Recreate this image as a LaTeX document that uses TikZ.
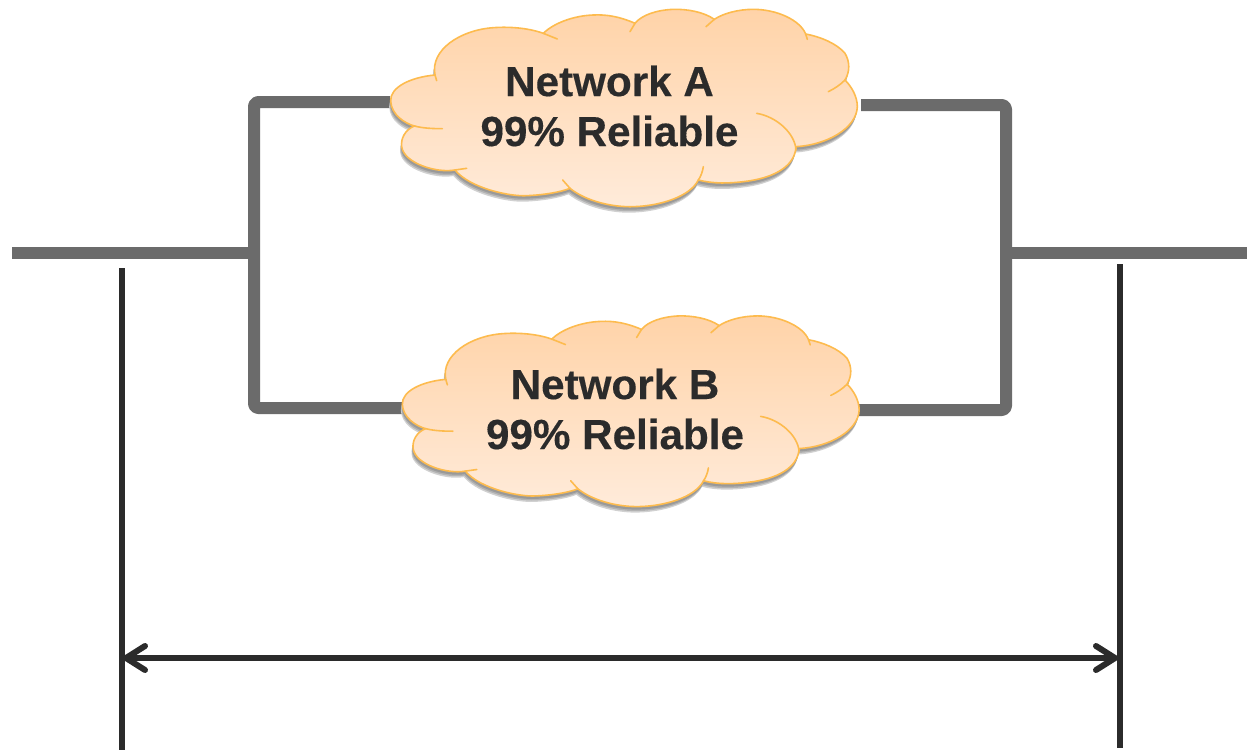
\documentclass[tikz,border=0pt]{standalone}
\usepackage{fontspec}
\setmainfont[BoldFeatures={FakeBold=0.25}]{Liberation Sans}
\usetikzlibrary{arrows.meta}
\definecolor{linkgrey}{HTML}{6B6B6B}
\definecolor{inkdark}{HTML}{2B2B2B}
\definecolor{cloudedge}{HTML}{FDBB4E}
\definecolor{cloudtop}{HTML}{FFD3A8}
\definecolor{cloudbot}{HTML}{FFEBDA}
\tikzset{
  link/.style={draw=linkgrey,line width=12pt,line join=round,rounded corners=4pt},
  dimline/.style={draw=inkdark,line width=6pt},
  dimarrow/.style={draw=inkdark,line width=5.5pt,{Straight Barb[length=19pt,width=24pt,round,line width=6pt]}-{Straight Barb[length=19pt,width=24pt,round,line width=6pt]}},
  nettext/.style={font=\fontsize{42.2}{50}\selectfont\bfseries,text=inkdark,align=center,inner sep=0pt},
  cloudtail/.style={draw=cloudedge,line width=1.6pt,line cap=round},
}
\def\cloudoutline{(165,225) .. controls (90,232) and (30,262) .. (32,303)
 .. controls (34,345) and (75,370) .. (103,378)
 .. controls (75,390) and (62,415) .. (65,440)
 .. controls (72,490) and (170,520) .. (225,510)
 .. controls (270,565) and (390,590) .. (440,587)
 .. controls (490,585) and (540,577) .. (570,565)
 .. controls (620,605) and (700,622) .. (760,620)
 .. controls (840,618) and (930,590) .. (955,540)
 .. controls (1000,552) and (1050,550) .. (1090,545)
 .. controls (1180,535) and (1245,500) .. (1248,440)
 .. controls (1340,435) and (1430,385) .. (1432,320)
 .. controls (1432,290) and (1415,260) .. (1395,240)
 .. controls (1410,215) and (1410,185) .. (1395,160)
 .. controls (1370,130) and (1320,110) .. (1277,102)
 .. controls (1260,60) and (1190,28) .. (1120,28)
 .. controls (1075,28) and (1030,40) .. (1003,58)
 .. controls (970,35) and (920,27) .. (880,28)
 .. controls (830,30) and (785,45) .. (765,70)
 .. controls (720,50) and (680,43) .. (640,45)
 .. controls (580,47) and (520,70) .. (490,100)
 .. controls (440,82) and (380,80) .. (340,83)
 .. controls (240,90) and (150,150) .. (165,225) -- cycle}
\newcommand{\drawcloud}{%
  \fill[black!18,shift={(-1.5pt,-6pt)}] \cloudoutline;
  \fill[black!30,shift={(-1pt,-4.5pt)}] \cloudoutline;
  \fill[black!40,shift={(-0.5pt,-3pt)}] \cloudoutline;
  \shade[top color=cloudtop,bottom color=cloudbot,draw=cloudedge,line width=1.6pt] \cloudoutline;
  \draw[cloudtail] (165,225) -- (170,242);
  \draw[cloudtail] (103,378) .. controls (130,385) and (160,386) .. (187,386);
  \draw[cloudtail] (225,510) -- (260,505);
  \draw[cloudtail] (570,565) -- (548,540);
  \draw[cloudtail] (955,540) .. controls (962,530) and (968,515) .. (970,500);
  \draw[cloudtail] (1248,450) .. controls (1245,400) and (1190,350) .. (1130,340);
  \draw[cloudtail] (1395,240) .. controls (1380,255) and (1365,265) .. (1345,275);
  \draw[cloudtail] (1277,102) -- (1282,118);
  \draw[cloudtail] (1003,58) -- (978,80);
  \draw[cloudtail] (765,70) -- (750,95);
  \draw[cloudtail] (490,100) -- (532,117);
}
\begin{document}
\begin{tikzpicture}[x=1pt,y=-1pt]
\useasboundingbox (0,0) rectangle (1247,750);
% connection points
\coordinate (inEnd) at (12,253);
\coordinate (outEnd) at (1247,253);
\coordinate (jL) at (254,253);
\coordinate (jR) at (1006,253);
\coordinate (cLA) at (254,102);
\coordinate (cLB) at (254,408);
\coordinate (cRA) at (1006,105);
\coordinate (cRB) at (1006,410);
\coordinate (aW) at (390,102);
\coordinate (aE) at (861,105);
\coordinate (bW) at (410,408);
\coordinate (bE) at (850,410);
\draw[link] (aW) -- (cLA) -- (cLB) -- (bW);
\draw[link] (aE) -- (cRA) -- (cRB) -- (bE);
\draw[link,rounded corners=0pt] (inEnd) -- (jL);
\draw[link,rounded corners=0pt] (jR) -- (outEnd);
% clouds
\begin{scope}[shift={(380,0)},x=0.33333pt,y=-0.33333pt]
  \drawcloud
\end{scope}
\begin{scope}[shift={(391.9,306.9)},x=0.3263pt,y=-0.322pt]
  \drawcloud
\end{scope}
\node[nettext] (netA) at (609.5,106) {Network A\\99\% Reliable};
\node[nettext] (netB) at (615,409) {Network B\\99\% Reliable};
% span
\coordinate (dlTop) at (122,268);
\coordinate (dlBot) at (122,750);
\coordinate (drTop) at (1120,264);
\coordinate (drBot) at (1120,748);
\coordinate (arrL) at (123,658);
\coordinate (arrR) at (1118,658);
\draw[dimline] (dlTop) -- (dlBot);
\draw[dimline] (drTop) -- (drBot);
\draw[dimarrow] (arrL) -- (arrR);
\end{tikzpicture}
\end{document}
